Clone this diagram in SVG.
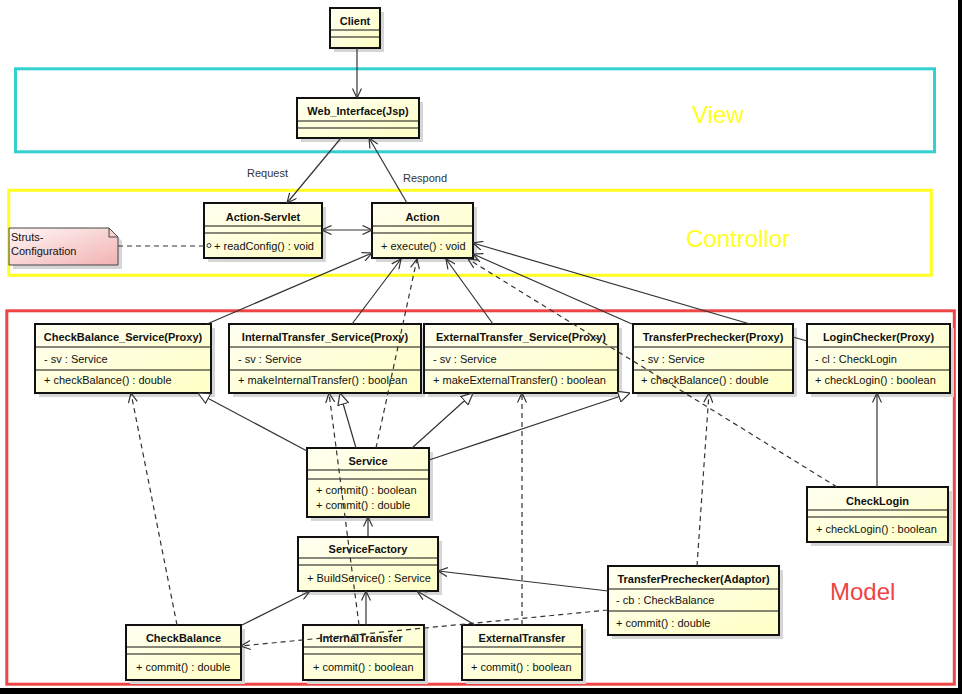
<svg xmlns="http://www.w3.org/2000/svg" width="962" height="694" viewBox="0 0 962 694">
<style>
text{font-family:"Liberation Sans",Arial,sans-serif;font-size:11px;fill:#111}
.nm{font-weight:bold;text-anchor:middle}
.box{fill:url(#cls);stroke:#111;stroke-width:2}
.sh{fill:#d6d6d6}
.sep{stroke:#111;stroke-width:1.2}
.ln{fill:none;stroke:#333;stroke-width:1.2}
.dl{fill:none;stroke:#333;stroke-width:1.2;stroke-dasharray:5,4}
.oa{marker-end:url(#open)}
.tr{marker-end:url(#tri)}
.lbl{fill:#333}
.big{font-size:24px}
</style>
<defs>
<linearGradient id="cls" x1="0" y1="0" x2="1" y2="1">
<stop offset="0" stop-color="#FFFFF2"/>
<stop offset="1" stop-color="#FFFFC4"/>
</linearGradient>
<linearGradient id="note" x1="0" y1="0" x2="1" y2="1">
<stop offset="0" stop-color="#FFF6F6"/>
<stop offset="1" stop-color="#F2B2B2"/>
</linearGradient>
<marker id="open" viewBox="0 0 10 10" refX="10" refY="5" markerWidth="10" markerHeight="10" markerUnits="userSpaceOnUse" orient="auto-start-reverse">
<path d="M0.5,0.5 L10,5 L0.5,9.5" fill="none" stroke="#333" stroke-width="1.2"/>
</marker>
<marker id="tri" viewBox="0 0 12 12" refX="12" refY="6" markerWidth="12" markerHeight="12" markerUnits="userSpaceOnUse" orient="auto">
<path d="M0.5,0.5 L12,6 L0.5,11.5 Z" fill="#fff" stroke="#333" stroke-width="1.2"/>
</marker>
</defs>
<rect width="962" height="694" fill="#fff"/>
<g id="layers">
<rect x="15.5" y="68.8" width="919" height="83" fill="none" stroke="#33D0D0" stroke-width="3"/>
<text x="692" y="123" class="big" style="fill:#FFFF22">View</text>
<rect x="8.7" y="190.3" width="922.6" height="85" fill="none" stroke="#FFFF22" stroke-width="3"/>
<text x="686" y="247" class="big" style="fill:#FFFF22">Controllor</text>
<rect x="6.8" y="310.8" width="947.5" height="373.4" fill="none" stroke="#EE4646" stroke-width="3"/>
<text x="830" y="600" class="big" style="fill:#EE4444">Model</text>
</g>
<g id="Client">
<rect class="sh" x="334" y="12" width="50" height="40"/>
<rect class="box" x="330" y="8" width="50" height="40"/>
<line class="sep" x1="330" y1="30" x2="380" y2="30"/><line class="sep" x1="330" y1="37" x2="380" y2="37"/>
<text class="nm" x="355" y="25">Client</text>
</g>
<g id="WebInterface">
<rect class="sh" x="301" y="102" width="122" height="40"/>
<rect class="box" x="297" y="98" width="122" height="40"/>
<line class="sep" x1="297" y1="121" x2="419" y2="121"/><line class="sep" x1="297" y1="128" x2="419" y2="128"/>
<text class="nm" x="358" y="115">Web_Interface(Jsp)</text>
</g>
<g id="StrutsConfiguration">
<path d="M13,232 H113 L122,241 V269 H13 Z" class="sh"/>
<path d="M9,228 H109 L118,237 V265 H9 Z" fill="url(#note)" stroke="#444" stroke-width="1"/>
<path d="M109,228 V237 H118" fill="none" stroke="#444" stroke-width="1"/>
<text x="11" y="241">Struts-</text>
<text x="11" y="255">Configuration</text>
</g>
<g id="ActionServlet">
<rect class="sh" x="208" y="207" width="118" height="55"/>
<rect class="box" x="204" y="203" width="118" height="55"/>
<line class="sep" x1="204" y1="226" x2="322" y2="226"/><line class="sep" x1="204" y1="233" x2="322" y2="233"/>
<text class="nm" x="263" y="221">Action-Servlet</text>
<text x="214" y="250">+ readConfig() : void</text>
</g>
<g id="Action">
<rect class="sh" x="376" y="207" width="101" height="55"/>
<rect class="box" x="372" y="203" width="101" height="55"/>
<line class="sep" x1="372" y1="226" x2="473" y2="226"/><line class="sep" x1="372" y1="233" x2="473" y2="233"/>
<text class="nm" x="422.5" y="221">Action</text>
<text x="381" y="250">+ execute() : void</text>
</g>
<g id="CheckBalanceServiceProxy">
<rect class="sh" x="39" y="328" width="176" height="69"/>
<rect class="box" x="35" y="324" width="176" height="69"/>
<line class="sep" x1="35" y1="347" x2="211" y2="347"/><line class="sep" x1="35" y1="370" x2="211" y2="370"/>
<text class="nm" x="123" y="341">CheckBalance_Service(Proxy)</text>
<text x="44" y="363">- sv : Service</text>
<text x="44" y="384">+ checkBalance() : double</text>
</g>
<g id="InternalTransferServiceProxy">
<rect class="sh" x="233" y="328" width="192" height="69"/>
<rect class="box" x="229" y="324" width="192" height="69"/>
<line class="sep" x1="229" y1="347" x2="421" y2="347"/><line class="sep" x1="229" y1="370" x2="421" y2="370"/>
<text class="nm" x="325" y="341">InternalTransfer_Service(Proxy)</text>
<text x="238" y="363">- sv : Service</text>
<text x="238" y="384">+ makeInternalTransfer() : boolean</text>
</g>
<g id="ExternalTransferServiceProxy">
<rect class="sh" x="428" y="328" width="194" height="69"/>
<rect class="box" x="424" y="324" width="194" height="69"/>
<line class="sep" x1="424" y1="347" x2="618" y2="347"/><line class="sep" x1="424" y1="370" x2="618" y2="370"/>
<text class="nm" x="521" y="341">ExternalTransfer_Service(Proxy)</text>
<text x="433" y="363">- sv : Service</text>
<text x="433" y="384">+ makeExternalTransfer() : boolean</text>
</g>
<g id="TransferPrecheckerProxy">
<rect class="sh" x="637" y="328" width="160" height="69"/>
<rect class="box" x="633" y="324" width="160" height="69"/>
<line class="sep" x1="633" y1="347" x2="793" y2="347"/><line class="sep" x1="633" y1="370" x2="793" y2="370"/>
<text class="nm" x="713" y="341">TransferPrechecker(Proxy)</text>
<text x="641" y="363">- sv : Service</text>
<text x="641" y="384">+ checkBalance() : double</text>
</g>
<g id="LoginCheckerProxy">
<rect class="sh" x="811" y="328" width="143" height="69"/>
<rect class="box" x="807" y="324" width="143" height="69"/>
<line class="sep" x1="807" y1="347" x2="950" y2="347"/><line class="sep" x1="807" y1="370" x2="950" y2="370"/>
<text class="nm" x="878.5" y="341">LoginChecker(Proxy)</text>
<text x="815" y="363">- cl : CheckLogin</text>
<text x="815" y="384">+ checkLogin() : boolean</text>
</g>
<g id="Service">
<rect class="sh" x="311" y="452" width="122" height="69"/>
<rect class="box" x="307" y="448" width="122" height="69"/>
<line class="sep" x1="307" y1="470" x2="429" y2="470"/><line class="sep" x1="307" y1="479" x2="429" y2="479"/>
<text class="nm" x="368" y="465">Service</text>
<text x="316" y="494">+ commit() : boolean</text>
<text x="316" y="509">+ commit() : double</text>
</g>
<g id="ServiceFactory">
<rect class="sh" x="302" y="541" width="140" height="54"/>
<rect class="box" x="298" y="537" width="140" height="54"/>
<line class="sep" x1="298" y1="558" x2="438" y2="558"/><line class="sep" x1="298" y1="565" x2="438" y2="565"/>
<text class="nm" x="368" y="553">ServiceFactory</text>
<text x="307" y="582">+ BuildService() : Service</text>
</g>
<g id="CheckLogin">
<rect class="sh" x="811" y="491" width="141" height="55"/>
<rect class="box" x="807" y="487" width="141" height="55"/>
<line class="sep" x1="807" y1="510" x2="948" y2="510"/><line class="sep" x1="807" y1="517" x2="948" y2="517"/>
<text class="nm" x="877.5" y="505">CheckLogin</text>
<text x="816" y="533">+ checkLogin() : boolean</text>
</g>
<g id="TransferPrecheckerAdaptor">
<rect class="sh" x="612" y="570" width="171" height="69"/>
<rect class="box" x="608" y="566" width="171" height="69"/>
<line class="sep" x1="608" y1="589" x2="779" y2="589"/><line class="sep" x1="608" y1="611" x2="779" y2="611"/>
<text class="nm" x="693.5" y="583">TransferPrechecker(Adaptor)</text>
<text x="616" y="604">- cb : CheckBalance</text>
<text x="616" y="627">+ commit() : double</text>
</g>
<g id="CheckBalance">
<rect class="sh" x="130" y="629" width="115" height="55"/>
<rect class="box" x="126" y="625" width="115" height="55"/>
<line class="sep" x1="126" y1="647" x2="241" y2="647"/><line class="sep" x1="126" y1="654" x2="241" y2="654"/>
<text class="nm" x="183.5" y="642">CheckBalance</text>
<text x="136" y="671">+ commit() : double</text>
</g>
<g id="InternalTransfer">
<rect class="sh" x="307" y="629" width="121" height="55"/>
<rect class="box" x="303" y="625" width="121" height="55"/>
<line class="sep" x1="303" y1="647" x2="424" y2="647"/><line class="sep" x1="303" y1="654" x2="424" y2="654"/>
<text class="nm" x="361" y="642">InternalTransfer</text>
<text x="313" y="671">+ commit() : boolean</text>
</g>
<g id="ExternalTransfer">
<rect class="sh" x="466" y="629" width="120" height="55"/>
<rect class="box" x="462" y="625" width="120" height="55"/>
<line class="sep" x1="462" y1="647" x2="582" y2="647"/><line class="sep" x1="462" y1="654" x2="582" y2="654"/>
<text class="nm" x="522" y="642">ExternalTransfer</text>
<text x="471" y="671">+ commit() : boolean</text>
</g>
<g id="connectors">
<path class="ln oa" d="M357,48 L357,98"/>
<path class="ln oa" d="M341,138 L287,203"/>
<path class="ln oa" d="M407,203 L369,138"/>
<path class="ln oa" d="M322,230 L372,230" marker-start="url(#open)"/>
<path class="ln oa" d="M207,324 L372,253"/>
<path class="ln oa" d="M352,324 L401,259"/>
<path class="ln oa" d="M493,324 L446,259"/>
<path class="ln oa" d="M632,324 L473,254"/>
<path class="ln oa" d="M750,324 L473,243"/>
<path class="ln" d="M793,337 L807,341"/>
<path class="ln oa" d="M368,537 L368,517"/>
<path class="ln oa" d="M242,625 L310,591"/>
<path class="ln oa" d="M366,625 L366,591"/>
<path class="ln oa" d="M475,625 L417,591"/>
<path class="ln oa" d="M608,591 L438,571"/>
<path class="ln oa" d="M877,487 L877,393"/>
<path class="ln tr" d="M307,451 L198,393"/>
<path class="ln tr" d="M356,448 L340,393"/>
<path class="ln tr" d="M412,448 L473,393"/>
<path class="ln tr" d="M429,460 L630,393"/>
<path class="dl oa" d="M376,448 L417,259"/>
<path class="dl oa" d="M837,487 L468,259"/>
<path class="dl oa" d="M177,625 L131,393"/>
<path class="dl oa" d="M359,625 L329,393"/>
<path class="dl oa" d="M522,625 L522,393"/>
<path class="dl oa" d="M697,566 L709,393"/>
<path class="dl oa" d="M608,610 L241,646"/>
<path class="dl" d="M118,246 L207,246"/>
<circle cx="209" cy="245.5" r="2" fill="#fff" stroke="#333" stroke-width="1"/>
<text class="lbl" x="247" y="177">Request</text>
<text class="lbl" x="403" y="182">Respond</text>
</g>
<rect x="958" y="0" width="4" height="694" fill="#000"/>
<rect x="0" y="688" width="962" height="6" fill="#000"/>
</svg>
